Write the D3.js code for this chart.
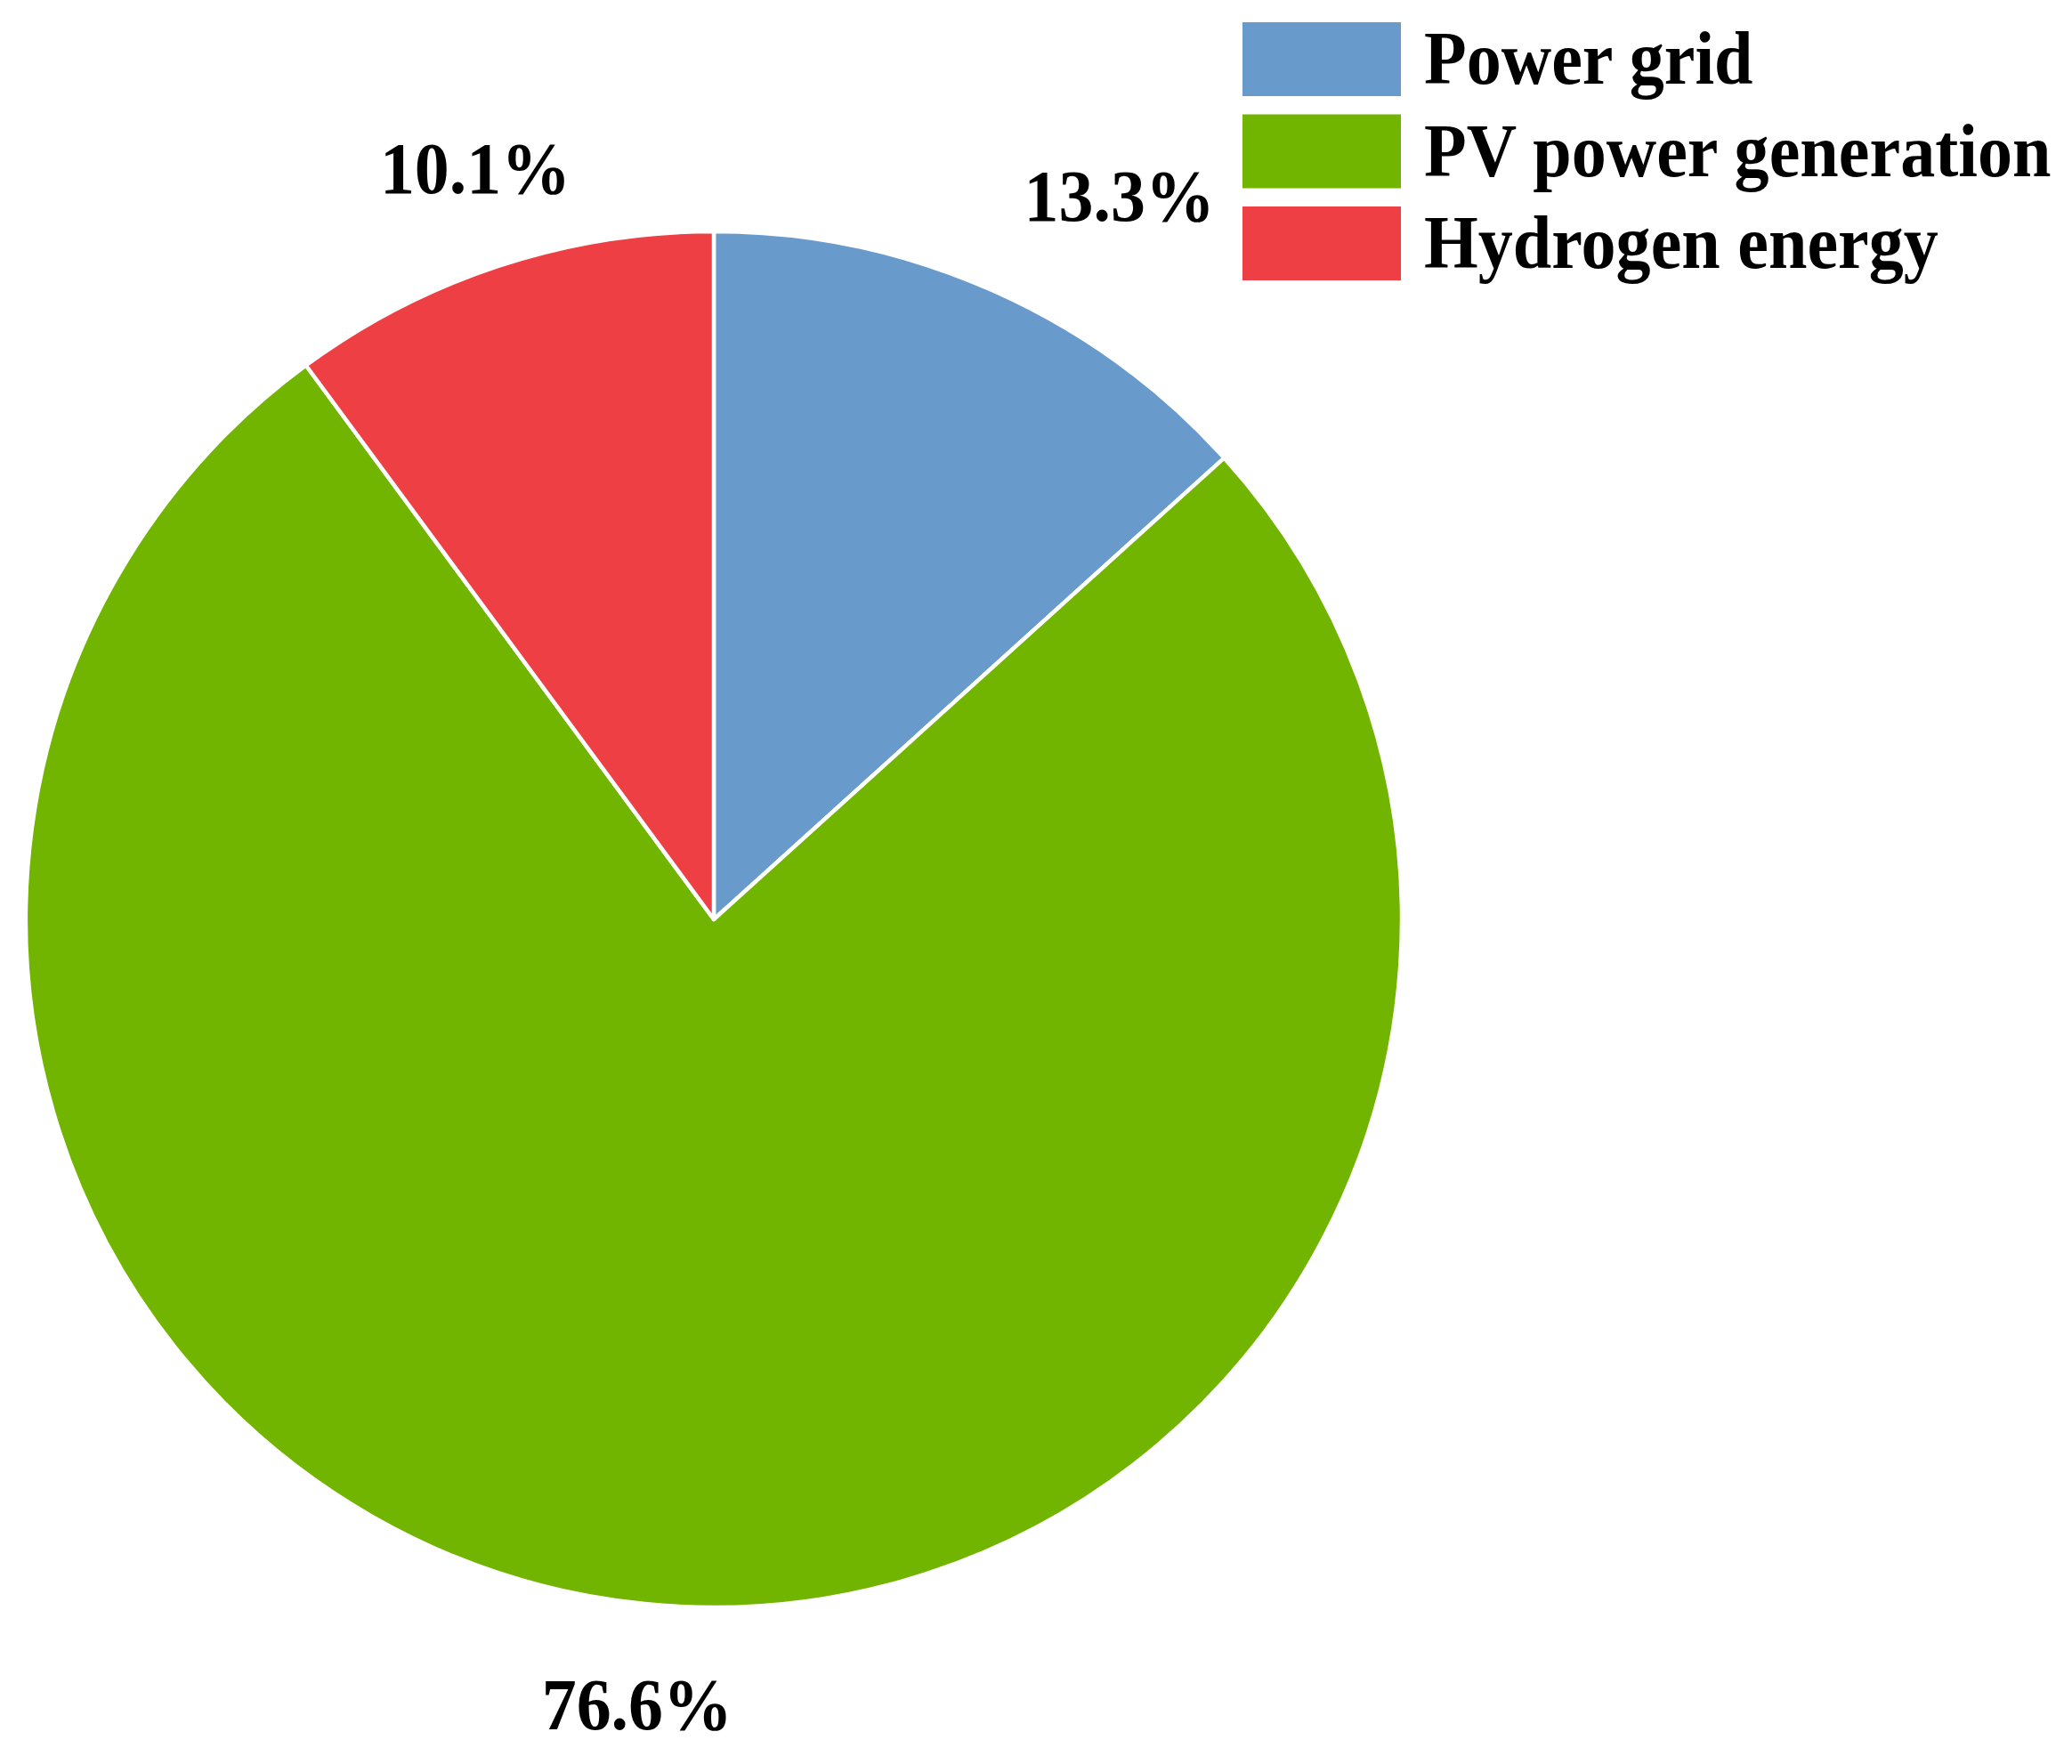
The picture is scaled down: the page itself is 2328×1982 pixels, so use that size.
<!DOCTYPE html>
<html>
<head>
<meta charset="utf-8">
<script src="https://cdn.jsdelivr.net/npm/d3@7"></script>
<style>
  html, body { margin: 0; padding: 0; background: #ffffff; }
  svg { display: block; }
  text { font-family: "Liberation Serif", "Times New Roman", serif; font-weight: bold; fill: #000; }
</style>
</head>
<body>
<svg id="chart" width="2328" height="1982"></svg>
<script>
// ---- data ----
const categories = ["Power grid", "PV power generation", "Hydrogen energy"];
const shares = [13.3, 76.6, 10.1];
const labels = ["13.3%", "76.6%", "10.1%"];
const colors = ["#689BCC", "#72B500", "#EE4044"];

// ---- layout ----
const W = 2328, H = 1982;
const cx = 802, cy = 1033, radius = 773;
const labelRadius = 859;
const labelFont = 82, labelScaleX = 0.95;
const legendX = 1396, legendY = 25, swW = 178, swH = 83, rowStep = 103.5;
const legendFont = 84, legendScaleX = 0.93;

const svg = d3.select("#chart");

const color = d3.scaleOrdinal().domain(categories).range(colors);

const data = categories.map((c, i) => ({ name: c, value: shares[i], label: labels[i] }));

const pie = d3.pie().value(d => d.value).sort(null).startAngle(0).endAngle(2 * Math.PI);
const arcs = pie(data);
const arc = d3.arc().innerRadius(0).outerRadius(radius);

const g = svg.append("g").attr("transform", `translate(${cx},${cy})`);

g.selectAll("path.slice")
  .data(arcs)
  .enter().append("path")
  .attr("class", "slice")
  .attr("d", arc)
  .attr("fill", d => color(d.data.name))
  .attr("stroke", "#ffffff")
  .attr("stroke-width", 4.5)
  .attr("stroke-linejoin", "round");

// percentage labels outside the pie
g.selectAll("text.pct")
  .data(arcs)
  .enter().append("text")
  .attr("class", "pct")
  .each(function(d) {
    const a = (d.startAngle + d.endAngle) / 2;
    const s = Math.sin(a), c = Math.cos(a);
    let x = s * labelRadius;
    let y = -c * labelRadius;
    const anchor = s > 0.35 ? "start" : (s < -0.35 ? "end" : "middle");
    // below the centre: text hangs beneath the anchor point
    if (c < 0) y += labelFont * 0.68;
    d3.select(this)
      .attr("text-anchor", anchor)
      .attr("font-size", labelFont)
      .attr("transform", `translate(${x},${y}) scale(${labelScaleX},1)`)
      .text(d.data.label);
  });

// legend
const lg = svg.append("g").attr("transform", `translate(${legendX},${legendY})`);
const rows = lg.selectAll("g.row")
  .data(data)
  .enter().append("g")
  .attr("class", "row")
  .attr("transform", (d, i) => `translate(0,${i * rowStep})`);

rows.append("rect")
  .attr("width", swW)
  .attr("height", swH)
  .attr("fill", d => color(d.name));

rows.append("text")
  .attr("font-size", legendFont)
  .attr("transform", `translate(${swW + 26},${swH / 2 + legendFont * 0.33}) scale(${legendScaleX},1)`)
  .text(d => d.name);
</script>
</body>
</html>
